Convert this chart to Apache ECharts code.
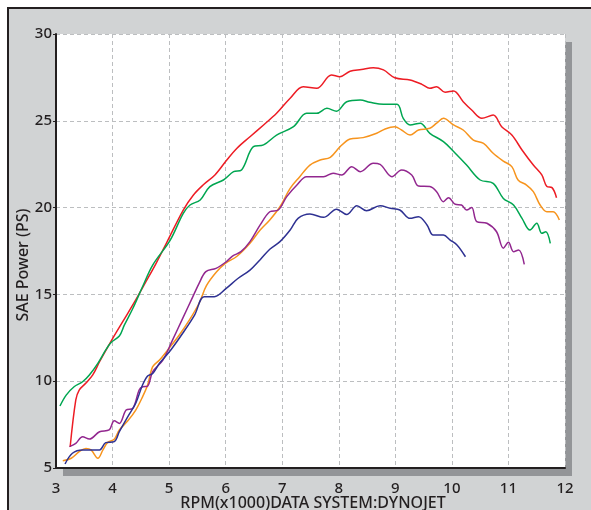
<!DOCTYPE html>
<html>
<head>
<meta charset="utf-8">
<script src="https://cdn.jsdelivr.net/npm/echarts@6/dist/echarts.min.js"></script>
<style>
html,body{margin:0;padding:0;background:#fff;overflow:hidden;}
#frame{position:absolute;left:7px;top:7px;width:640px;height:560px;background:#d1d3d4;border-left:2px solid #231f20;border-top:2px solid #231f20;}
#c{position:absolute;left:0;top:0;width:591px;height:510px;}
</style>
</head>
<body>
<div id="frame"></div>
<div id="c"></div>
<script>
const xTicks = [3,4,5,6,7,8,9,10,11,12];
const yTicks = [5,10,15,20,25,30];
const xTitle = 'RPM(x1000)DATA SYSTEM:DYNOJET';
const yTitle = 'SAE Power (PS)';

const redData = [[3.25,6.21],[3.35,8.92],[3.41,9.49],[3.53,9.9],[3.65,10.36],[3.77,11.12],[3.97,12.28],[4.18,13.43],[4.41,14.68],[4.59,15.73],[4.77,16.79],[4.96,18.0],[5.25,19.86],[5.43,20.73],[5.60,21.30],[5.81,21.88],[6.02,22.74],[6.20,23.42],[6.43,24.08],[6.67,24.76],[6.90,25.43],[7.14,26.30],[7.37,26.96],[7.61,26.87],[7.87,27.64],[8.02,27.54],[8.2,27.85],[8.4,27.95],[8.61,28.06],[8.79,27.93],[8.99,27.48],[9.26,27.35],[9.47,27.10],[9.61,26.87],[9.73,26.96],[9.88,26.64],[10.03,26.72],[10.20,26.10],[10.35,25.62],[10.53,25.14],[10.73,25.33],[10.88,24.66],[11.06,24.18],[11.24,23.32],[11.44,22.45],[11.59,21.88],[11.68,21.21],[11.77,21.15],[11.85,20.57]];

const greenData = [[3.07,8.57],[3.18,9.20],[3.32,9.68],[3.47,9.97],[3.59,10.36],[3.74,11.03],[3.88,11.80],[3.97,12.22],[4.12,12.60],[4.21,13.24],[4.36,14.2],[4.53,15.44],[4.71,16.69],[5.02,18.13],[5.25,19.67],[5.37,20.15],[5.55,20.44],[5.72,21.21],[5.96,21.59],[6.14,22.07],[6.28,22.17],[6.49,23.51],[6.67,23.61],[6.90,24.18],[7.20,24.66],[7.43,25.43],[7.61,25.43],[7.79,25.72],[7.96,25.55],[8.14,26.10],[8.38,26.20],[8.55,26.07],[8.79,25.95],[9.03,25.95],[9.14,25.14],[9.26,24.76],[9.44,24.86],[9.61,24.28],[9.85,23.80],[10.06,23.13],[10.26,22.45],[10.50,21.59],[10.73,21.40],[10.91,20.53],[11.09,20.15],[11.24,19.38],[11.38,18.71],[11.50,19.10],[11.59,18.52],[11.66,18.61],[11.74,17.94]];

const orangeData = [[3.12,5.42],[3.27,5.56],[3.41,5.94],[3.53,6.13],[3.62,6.04],[3.74,5.56],[3.83,6.04],[3.91,6.46],[4.03,6.65],[4.12,7.19],[4.27,7.72],[4.41,8.34],[4.53,9.1],[4.62,9.78],[4.71,10.84],[4.83,11.22],[5.0,11.9],[5.18,12.66],[5.36,13.53],[5.53,14.49],[5.66,15.5],[5.84,16.3],[6.0,16.8],[6.2,17.2],[6.43,17.95],[6.61,18.71],[6.78,19.29],[6.96,20.05],[7.14,21.11],[7.31,21.78],[7.49,22.45],[7.67,22.74],[7.85,22.9],[8.02,23.5],[8.20,23.95],[8.43,24.03],[8.67,24.28],[8.82,24.53],[8.99,24.66],[9.11,24.47],[9.26,24.18],[9.41,24.47],[9.61,24.57],[9.73,24.86],[9.85,25.14],[10.03,24.76],[10.20,24.47],[10.38,23.89],[10.56,23.70],[10.73,23.13],[10.91,22.68],[11.06,22.36],[11.17,21.59],[11.32,21.30],[11.44,20.92],[11.56,20.15],[11.68,19.76],[11.79,19.76],[11.90,19.29]];

const purpleData = [[3.24,6.23],[3.35,6.42],[3.47,6.80],[3.59,6.67],[3.77,7.09],[3.94,7.19],[4.03,7.72],[4.12,7.57],[4.24,8.34],[4.36,8.44],[4.47,9.49],[4.53,9.68],[4.62,9.72],[4.71,10.55],[4.89,11.22],[5.06,12.37],[5.24,13.62],[5.42,14.87],[5.53,15.64],[5.65,16.31],[5.83,16.50],[6.01,16.88],[6.12,17.21],[6.27,17.46],[6.43,18.04],[6.61,19.0],[6.78,19.76],[6.93,19.86],[7.08,20.63],[7.26,21.30],[7.43,21.78],[7.73,21.78],[7.90,21.98],[8.05,21.88],[8.23,22.36],[8.38,22.07],[8.61,22.55],[8.73,22.49],[8.94,21.78],[9.11,22.17],[9.29,21.88],[9.41,21.24],[9.61,21.21],[9.73,20.92],[9.85,20.34],[9.94,20.57],[10.06,20.19],[10.17,20.15],[10.26,19.86],[10.35,20.0],[10.44,19.19],[10.62,19.10],[10.79,18.61],[10.91,17.66],[11.0,18.0],[11.09,17.46],[11.18,17.56],[11.28,16.73]];

const navyData = [[3.16,5.23],[3.29,5.85],[3.47,6.04],[3.65,6.04],[3.77,6.04],[3.88,6.46],[4.03,6.52],[4.12,7.09],[4.27,7.96],[4.41,8.73],[4.53,9.78],[4.62,10.30],[4.71,10.45],[4.83,11.03],[5.03,11.80],[5.24,12.76],[5.45,13.81],[5.62,14.87],[5.80,14.87],[6.01,15.35],[6.21,15.9],[6.43,16.4],[6.61,17.0],[6.78,17.6],[6.96,18.04],[7.14,18.71],[7.28,19.38],[7.49,19.63],[7.73,19.44],[7.96,19.91],[8.14,19.60],[8.32,20.11],[8.49,19.82],[8.73,20.11],[8.91,19.96],[9.08,19.86],[9.26,19.38],[9.41,19.48],[9.56,19.0],[9.67,18.42],[9.85,18.42],[9.97,18.13],[10.09,17.85],[10.24,17.17]];

const seriesList = [
  {name:'red', data: redData, color:'#ed1c24'},
  {name:'green', data: greenData, color:'#00a651'},
  {name:'orange', data: orangeData, color:'#f7941d'},
  {name:'purple', data: purpleData, color:'#92278f'},
  {name:'navy', data: navyData, color:'#2e3192'}
];

const G = {left:56, top:34, width:509, height:434};
const font = 'Noto Sans, DejaVu Sans, sans-serif';
const ink = '#231f20';
const chart = echarts.init(document.getElementById('c'), null, {renderer:'canvas'});
chart.setOption({
  backgroundColor: 'transparent',
  animation: false,
  graphic: [
    {type:'rect', z:-10, shape:{x:G.left+7, y:G.top+8, width:G.width, height:G.height}, style:{fill:'#939598'}},
    {type:'rect', z:-9, shape:{x:G.left, y:G.top, width:G.width, height:G.height}, style:{fill:'#ffffff'}},
    {type:'text', x:313, y:503, style:{text:xTitle, fill:ink, font:'500 16px ' + font, align:'center', verticalAlign:'middle'}},
    {type:'text', x:23, y:265, rotation:Math.PI/2, style:{text:yTitle, fill:ink, font:'500 16px ' + font, align:'center', verticalAlign:'middle'}}
  ],
  grid: {left:G.left, top:G.top, width:G.width, height:G.height, show:false},
  xAxis: {
    type:'value', min:xTicks[0], max:xTicks[xTicks.length-1], interval:1,
    axisLine:{show:true, onZero:false, lineStyle:{color:ink, width:2}},
    axisTick:{show:false},
    axisLabel:{color:ink, fontSize:15, fontFamily:font, fontWeight:500, margin:13},
    splitLine:{show:true, lineStyle:{color:'#bcbec0', type:[4,3], width:1}}
  },
  yAxis: {
    type:'value', min:yTicks[0], max:yTicks[yTicks.length-1], interval:5,
    axisLine:{show:true, onZero:false, lineStyle:{color:ink, width:2}},
    axisTick:{show:true, length:3, lineStyle:{color:ink, width:1}},
    axisLabel:{color:ink, fontSize:15, fontFamily:font, fontWeight:500, margin:4},
    splitLine:{show:true, lineStyle:{color:'#bcbec0', type:[4,3], width:1}}
  },
  series: seriesList.map(s => ({
    type:'line', name:s.name, data:s.data, showSymbol:false, smooth:0.35,
    lineStyle:{color:s.color, width:1.5}, itemStyle:{color:s.color}
  }))
});
</script>
</body>
</html>
